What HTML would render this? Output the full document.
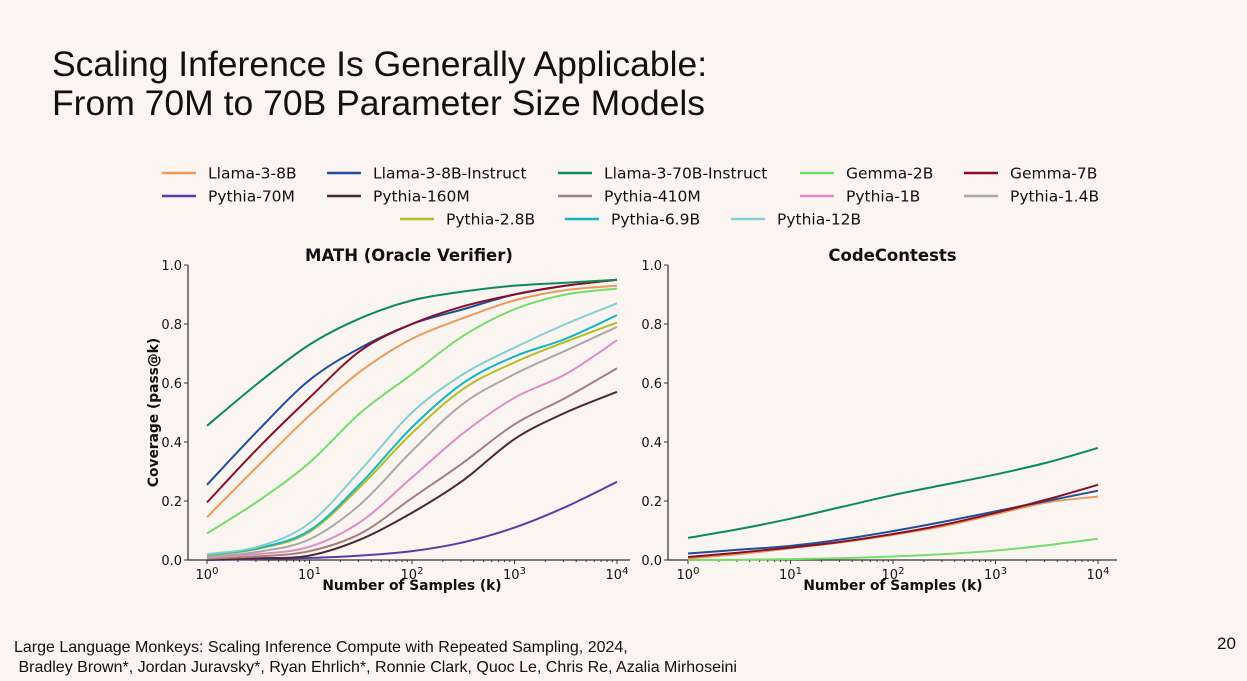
<!DOCTYPE html>
<html><head><meta charset="utf-8"><style>
html,body{margin:0;padding:0;background:#fbf5f2;}
body{width:1247px;height:681px;overflow:hidden;position:relative;font-family:"Liberation Sans",sans-serif;}
.t{position:absolute;left:52px;font-size:35.5px;color:#111;line-height:39px;}
.f{position:absolute;left:14px;font-size:16px;color:#111;}
svg text{font-family:"DejaVu Sans",sans-serif;}
</style></head><body>
<div class="t" style="top:45px">Scaling Inference Is Generally Applicable:<br>From 70M to 70B Parameter Size Models</div>
<div class="f" style="top:639px">Large Language Monkeys: Scaling Inference Compute with Repeated Sampling, 2024,</div>
<div class="f" style="top:659px">&nbsp;Bradley Brown*, Jordan Juravsky*, Ryan Ehrlich*, Ronnie Clark, Quoc Le, Chris Re, Azalia Mirhoseini</div>
<div class="f" style="left:1217px;top:634px;font-size:17px">20</div>
<svg id="chart" width="1247" height="681" style="position:absolute;left:0;top:0"></svg>
<script>
const xTicks=[0,1,2,3,4];
const yTicks=[0,0.2,0.4,0.6,0.8,1.0];
const yTickLabels=["0.0","0.2","0.4","0.6","0.8","1.0"];
const logK=[0,0.5,1,1.5,2,2.5,3,3.5,4];
const seriesNames=["Llama-3-8B","Llama-3-8B-Instruct","Llama-3-70B-Instruct","Gemma-2B","Gemma-7B","Pythia-70M","Pythia-160M","Pythia-410M","Pythia-1B","Pythia-1.4B","Pythia-2.8B","Pythia-6.9B","Pythia-12B"];
const seriesColors=["#ec9a5b","#1f4e9c","#0d8a57","#76dc6a","#8a0f26","#5b3aa8","#4a2a2a","#a57f7a","#e08bc8","#a9a9a9","#b5bd25","#17b5c4","#82cfd2"];
const mathVals={
"Llama-3-8B":[0.145,0.32,0.49,0.64,0.75,0.82,0.88,0.915,0.93],
"Llama-3-8B-Instruct":[0.255,0.44,0.61,0.72,0.80,0.85,0.90,0.93,0.95],
"Llama-3-70B-Instruct":[0.455,0.60,0.73,0.82,0.88,0.91,0.93,0.94,0.95],
"Gemma-2B":[0.09,0.20,0.33,0.50,0.63,0.76,0.85,0.90,0.92],
"Gemma-7B":[0.195,0.38,0.55,0.71,0.80,0.86,0.90,0.93,0.95],
"Pythia-70M":[0.0,0.003,0.007,0.015,0.03,0.06,0.11,0.18,0.265],
"Pythia-160M":[0.002,0.006,0.015,0.07,0.16,0.27,0.41,0.50,0.57],
"Pythia-410M":[0.005,0.012,0.03,0.09,0.21,0.33,0.46,0.55,0.65],
"Pythia-1B":[0.008,0.02,0.045,0.13,0.28,0.43,0.55,0.63,0.745],
"Pythia-1.4B":[0.01,0.028,0.07,0.19,0.37,0.53,0.63,0.71,0.79],
"Pythia-2.8B":[0.015,0.038,0.095,0.25,0.43,0.58,0.67,0.74,0.805],
"Pythia-6.9B":[0.018,0.04,0.10,0.26,0.45,0.60,0.69,0.75,0.83],
"Pythia-12B":[0.02,0.045,0.125,0.305,0.50,0.63,0.72,0.80,0.87]};
const codeVals={
"Llama-3-8B":[0.005,0.02,0.04,0.06,0.085,0.115,0.155,0.195,0.215],
"Llama-3-8B-Instruct":[0.022,0.035,0.048,0.07,0.098,0.13,0.165,0.20,0.235],
"Llama-3-70B-Instruct":[0.075,0.105,0.14,0.18,0.22,0.255,0.29,0.33,0.38],
"Gemma-2B":[0.0,0.001,0.003,0.006,0.012,0.02,0.032,0.05,0.072],
"Gemma-7B":[0.01,0.025,0.042,0.062,0.088,0.12,0.16,0.205,0.255]};
const NS="http://www.w3.org/2000/svg";
const svg=document.getElementById('chart');
function el(tag,attrs,parent){const e=document.createElementNS(NS,tag);for(const k in attrs)e.setAttribute(k,attrs[k]);(parent||svg).appendChild(e);return e;}
function panel(name,title,x0,x4,axL,axR,vals,showY){
  const g=el('g',{});
  
  
  const y0=560,y1=265;
  const X=v=>x0+(x4-x0)*v/4, Y=v=>y0-(y0-y1)*v;
  const t=el('text',{x:(axL+axR)/2,y:261,'text-anchor':'middle','font-size':16.5,'font-weight':'bold',fill:'#111'},g);t.textContent=title;
  
  
  el('line',{x1:axL,y1:y0,x2:axR,y2:y0,stroke:'#333','stroke-width':1.2},g);
  el('line',{x1:axL,y1:y0,x2:axL,y2:y1,stroke:'#333','stroke-width':1.2},g);
  yTicks.forEach((v,i)=>{el('line',{x1:axL-4,x2:axL,y1:Y(v),y2:Y(v),stroke:'#333'},g);
    const tt=el('text',{x:axL-6,y:Y(v)+5,'text-anchor':'end','font-size':13,fill:'#111'},g);tt.textContent=yTickLabels[i];
    
    });
  xTicks.forEach(v=>{el('line',{x1:X(v),x2:X(v),y1:y0,y2:y0+4,stroke:'#333'},g);
    for(let m=2;m<10&&v<4;m++){const mx=X(v+Math.log10(m));el('line',{x1:mx,x2:mx,y1:y0,y2:y0+2,stroke:'#333'},g);}
    const tt=el('text',{x:X(v),y:y0+19,'text-anchor':'middle','font-size':13,fill:'#111'},g);
    tt.innerHTML='10<tspan dy="-5" font-size="10">'+v+'</tspan>';
    
    });
  const xl=el('text',{x:X(2),y:590,'text-anchor':'middle','font-size':13.8,'font-weight':'bold',fill:'#111'},g);xl.textContent='Number of Samples (k)';
  
  
  if(showY){const yl=el('text',{x:0,y:0,transform:`translate(158,${(y0+y1)/2}) rotate(-90)`,'text-anchor':'middle','font-size':13.8,'font-weight':'bold',fill:'#111'},g);yl.textContent='Coverage (pass@k)';
    
    }
  const order=["Pythia-70M","Pythia-160M","Pythia-410M","Pythia-1B","Pythia-1.4B","Pythia-2.8B","Pythia-6.9B","Pythia-12B","Gemma-2B","Llama-3-8B","Llama-3-8B-Instruct","Gemma-7B","Llama-3-70B-Instruct"];
  order.forEach(n=>{if(!vals[n])return;const c=seriesColors[seriesNames.indexOf(n)];
    const pts=logK.map((k,i)=>[X(k),Y(vals[n][i])]);
    let d='M'+pts[0][0]+','+pts[0][1];
    for(let i=0;i<pts.length-1;i++){const p0=pts[Math.max(0,i-1)],p1=pts[i],p2=pts[i+1],p3=pts[Math.min(pts.length-1,i+2)];
      d+=` C${p1[0]+(p2[0]-p0[0])/6},${p1[1]+(p2[1]-p0[1])/6} ${p2[0]-(p3[0]-p1[0])/6},${p2[1]-(p3[1]-p1[1])/6} ${p2[0]},${p2[1]}`;}
    const p=el('path',{d:d,fill:'none',stroke:c,'stroke-width':2},g);
    
    });
}
panel('math-panel','MATH (Oracle Verifier)',207,617,188,630,mathVals,true);
panel('codecontests-panel','CodeContests',688,1098,668,1117,codeVals,false);
const legPos=[[162,173],[327,173],[558,173],[800,173],[964,173],[162,196],[327,196],[558,196],[800,196],[964,196],[400,219],[565,219],[731,219]];
seriesNames.forEach((n,i)=>{const [lx,ly]=legPos[i];
  const g=el('g',{});
  
  
  el('line',{x1:lx,x2:lx+34,y1:ly,y2:ly,stroke:seriesColors[i],'stroke-width':2.5},g);
  const t=el('text',{x:lx+46,y:ly+5.5,'font-size':15.5,fill:'#111'},g);t.textContent=n;});
</script>
</body></html>
